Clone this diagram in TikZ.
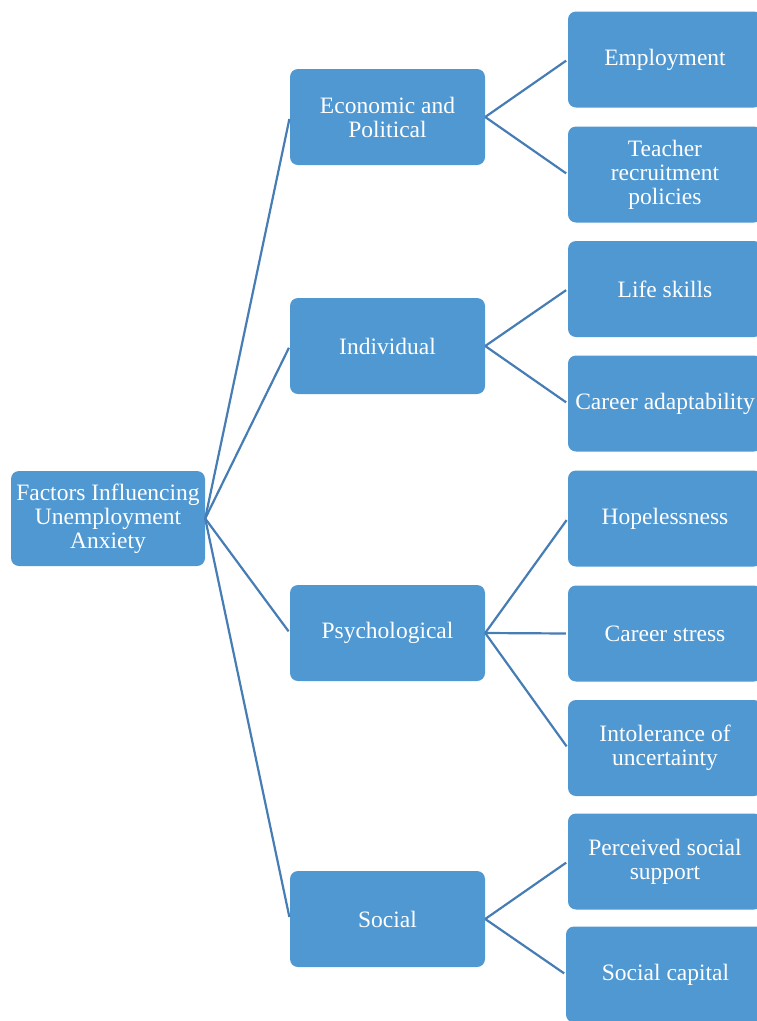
\documentclass[tikz,border=0pt]{standalone}
\usepackage{fontspec}
\setmainfont{Liberation Serif}
\usetikzlibrary{positioning}
\definecolor{boxblue}{RGB}{80,152,210}
\definecolor{lineblue}{RGB}{70,125,180}

\begin{document}
\begin{tikzpicture}[
  x=1pt, y=-1pt,
  box/.style={fill=boxblue, rounded corners=8pt, align=center, text=white, inner sep=0pt,
    minimum width=195pt, minimum height=96pt, font=\fontsize{23.5}{24}\selectfont},
  leaf/.style={box, minimum width=194pt},
  conn/.style={draw=lineblue, line width=2.2pt}
]
\clip (0,0) rectangle (757,1021);
\useasboundingbox (0,0) rectangle (757,1021);

\node[box, minimum width=194pt, minimum height=95pt] (root) at (108,518.5) {Factors Influencing\\Unemployment\\Anxiety};

\node[box] (econ) at (387.5,117) {Economic and\\Political};
\node[box] (indiv) at (387.5,346) {Individual};
\node[box] (psych) at (387.5,633) {Psychological};
\node[box] (social) at (387.5,919) {Social};

\node[leaf] (empl) at (665,59.5) {Employment};
\node[leaf] (teach) at (665,174.5) {Teacher\\recruitment\\policies};
\node[leaf] (life) at (665,289) {Life skills};
\node[leaf] (adapt) at (665,403.5) {Career adaptability};
\node[leaf] (hope) at (665,518.5) {Hopelessness};
\node[leaf] (stress) at (665,633.5) {Career stress};
\node[leaf] (intol) at (665,748) {Intolerance of\\uncertainty};
\node[leaf] (percv) at (665,861.5) {Perceived social\\support};
\node[leaf, minimum width=199pt] (capital) at (665.5,974.5) {Social capital};

% root to groups
\foreach \g in {econ,indiv,psych,social}
  \draw[conn, shorten >=2pt] (root.east) -- (\g.west);

% groups to factors
\draw[conn, shorten >=2pt] (econ.east) -- (empl.west);
\draw[conn, shorten >=2pt] (econ.east) -- (teach.west);
\draw[conn, shorten >=2pt] (indiv.east) -- (life.west);
\draw[conn, shorten >=2pt] (indiv.east) -- (adapt.west);
\draw[conn, shorten >=2pt] (psych.east) -- (hope.west);
\draw[conn, shorten >=2pt] (psych.east) -- (stress.west);
\draw[conn, shorten >=2pt] (psych.east) -- (intol.west);
\draw[conn, shorten >=2pt] (social.east) -- (percv.west);
\draw[conn, shorten >=2pt] (social.east) -- (capital.west);
\end{tikzpicture}
\end{document}
